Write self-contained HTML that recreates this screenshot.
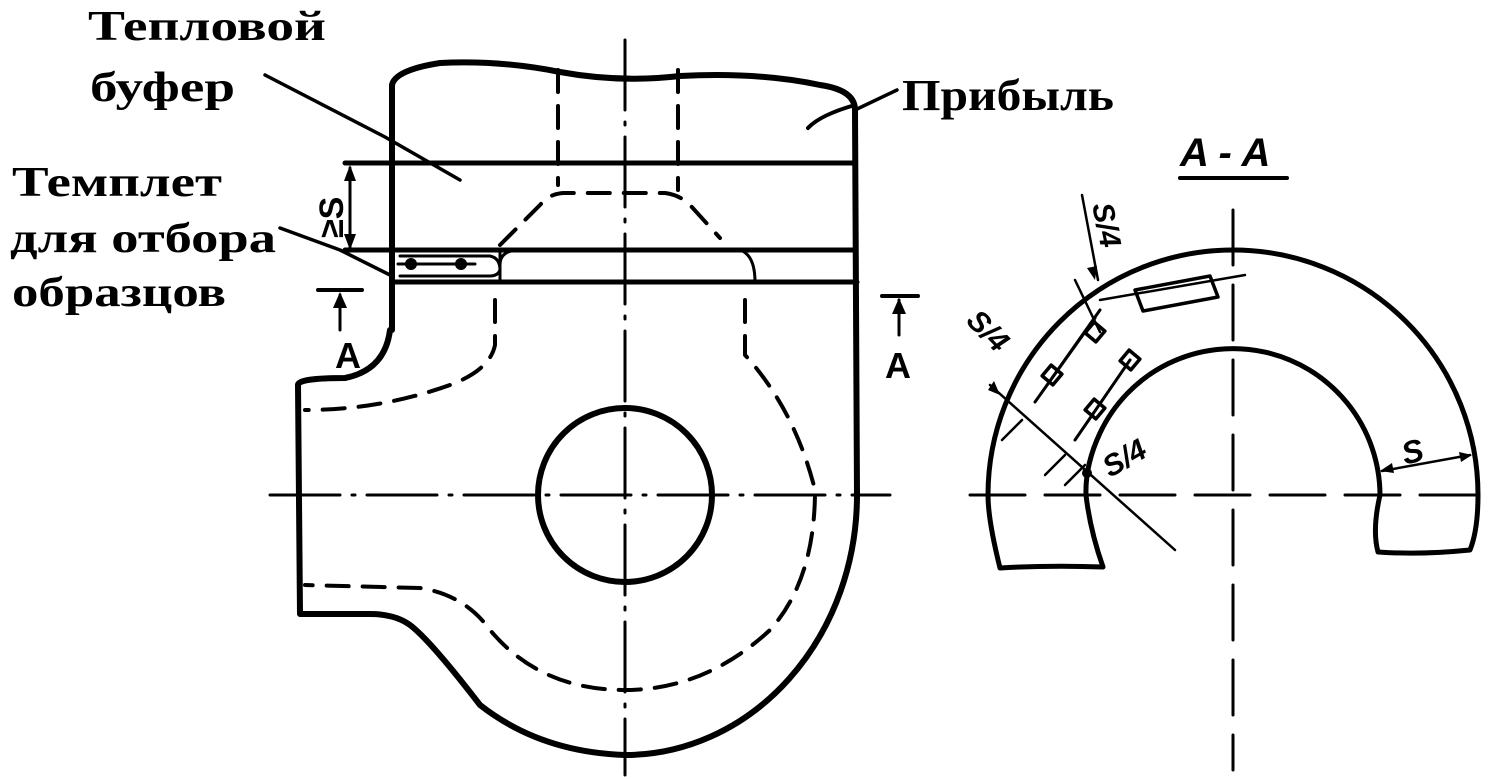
<!DOCTYPE html>
<html><head><meta charset="utf-8"><style>
html,body{margin:0;padding:0;background:#fff}
svg{display:block}
text{font-family:"Liberation Serif",serif;font-weight:bold;fill:#000}
</style></head><body>
<svg width="1490" height="779" viewBox="0 0 1490 779" xmlns="http://www.w3.org/2000/svg">
<g fill="none" stroke="#000" stroke-linecap="round" stroke-linejoin="round">
<path d="M392,330 L392,85 Q395,70 440,63 Q500,60 560,72 Q620,83 680,76 Q760,72 820,85 Q855,90 855,110 L857,495 A232,260 0 0 1 625,755 Q540,752 480,705 Q430,640 410,625 Q395,614 370,614 L300,614 L298,385 Q298,378 345,378 Q385,370 390,330" stroke-width="6"/>
<line x1="345" y1="163" x2="855" y2="163" stroke-width="5"/>
<line x1="345" y1="250" x2="855" y2="250" stroke-width="5"/>
<line x1="395" y1="282" x2="857" y2="282" stroke-width="5"/>
<path d="M500,250 L500,282 M500,265 Q500,250 520,250 L740,250 Q755,255 755,282" stroke-width="3"/>
<path d="M400,256 L490,256 Q500,258 500,270 Q498,276 490,276 L400,276" stroke-width="3"/>
<circle cx="411" cy="264" r="6" fill="#000" stroke="none"/>
<circle cx="461" cy="264" r="6" fill="#000" stroke="none"/>
<line x1="398" y1="264" x2="475" y2="264" stroke-width="3"/>
<path d="M265,75 L385,137 L460,180" stroke-width="3.5"/>
<path d="M280,228 L340,250 L392,276" stroke-width="3.5"/>
<path d="M855,110 L897,90" stroke-width="3.5"/>
<path d="M808,128 Q820,115 855,105" stroke-width="4"/>
<line x1="350" y1="168" x2="350" y2="248" stroke-width="3"/>
<path d="M350,165 l-6,16 l12,0 z M350,250 l-6,-16 l12,0 z" fill="#000" stroke="none"/>
<line x1="318" y1="290" x2="362" y2="290" stroke-width="4"/>
<line x1="340" y1="295" x2="340" y2="330" stroke-width="3"/>
<path d="M340,292 l-7,16 l14,0 z" fill="#000" stroke="none"/>
<line x1="882" y1="296" x2="918" y2="296" stroke-width="4"/>
<line x1="899" y1="300" x2="899" y2="335" stroke-width="3"/>
<path d="M899,298 l-7,16 l14,0 z" fill="#000" stroke="none"/>
<g stroke-width="4" stroke-dasharray="22,14">
<path d="M558,70 L558,185"/>
<path d="M678,70 L678,190"/>
<path d="M500,245 L540,205 Q550,193 565,193 L665,193 Q680,195 690,205 L720,238"/>
<path d="M495,300 L495,345 Q490,370 450,385 Q380,410 305,410"/>
<path d="M745,300 L745,355 Q795,410 815,490 Q815,580 770,630 Q705,690 625,690 Q540,690 490,630 Q465,595 420,588 L305,585"/>
</g>
<circle cx="625" cy="495" r="87" stroke-width="6"/>
<g stroke-width="3" stroke-dasharray="70,12,3,12">
<line x1="625" y1="40" x2="625" y2="775"/>
<line x1="270" y1="495" x2="890" y2="495"/>
</g>
<line x1="1180" y1="178" x2="1287" y2="178" stroke-width="4"/>
<path d="M1000,568 Q988,520 988,495 A245,245 0 0 1 1478,495 Q1478,530 1470,550 Q1420,555 1378,552 Q1372,530 1380,495 A147,147 0 0 0 1100,433 Q1085,465 1086,495 Q1090,530 1103,567 Q1050,565 1000,568 Z" stroke-width="5"/>
<g stroke-width="3" stroke-dasharray="55,20">
<line x1="1233" y1="210" x2="1233" y2="770"/>
<line x1="970" y1="495" x2="1495" y2="495"/>
</g>
<path d="M1135,290 L1210,276 L1218,297 L1143,311 Z" stroke-width="3.5"/>
<line x1="1100" y1="300" x2="1245" y2="275" stroke-width="2.5"/>
<line x1="1075" y1="280" x2="1100" y2="332" stroke-width="2.5"/>
<path d="M1100,310 L1040,395 M1095,318 L1035,402" stroke-width="3"/>
<rect x="1088" y="325" width="14" height="14" transform="rotate(40 1095 332)" stroke-width="3.5"/>
<rect x="1045" y="368" width="14" height="14" transform="rotate(40 1052 375)" stroke-width="3.5"/>
<path d="M1130,360 L1075,440" stroke-width="3"/>
<rect x="1123" y="353" width="14" height="14" transform="rotate(40 1130 360)" stroke-width="3.5"/>
<rect x="1088" y="402" width="14" height="14" transform="rotate(40 1095 409)" stroke-width="3.5"/>
<line x1="990" y1="385" x2="1175" y2="550" stroke-width="2.5"/>
<line x1="1082" y1="195" x2="1098" y2="280" stroke-width="2.5"/>
<line x1="1022" y1="420" x2="1002" y2="440" stroke-width="2.5"/>
<line x1="1065" y1="455" x2="1045" y2="475" stroke-width="2.5"/>
<line x1="1085" y1="465" x2="1065" y2="485" stroke-width="2.5"/>
<line x1="1382" y1="471" x2="1470" y2="455" stroke-width="2.5"/>
<path d="M1095,280 l-8,-12 l10,-2 z M1000,395 l-12,-5 l6,-9 z M1380,471 l12,-8 l2,10 z M1472,455 l-13,-3 l2,10 z" fill="#000" stroke="none"/>
<circle cx="1087" cy="473" r="5" fill="#000" stroke="none"/>
</g>
<text x="88" y="40" font-size="42" textLength="238" lengthAdjust="spacingAndGlyphs">Тепловой</text>
<text x="90" y="101" font-size="42" textLength="145" lengthAdjust="spacingAndGlyphs">буфер</text>
<text x="12" y="196" font-size="42" textLength="210" lengthAdjust="spacingAndGlyphs">Темплет</text>
<text x="10" y="252" font-size="42" textLength="266" lengthAdjust="spacingAndGlyphs">для отбора</text>
<text x="12" y="306" font-size="42" textLength="214" lengthAdjust="spacingAndGlyphs">образцов</text>
<text x="902" y="110" font-size="44" font-weight="normal" textLength="212" lengthAdjust="spacingAndGlyphs">Прибыль</text>
<text x="1180" y="166" font-size="40" font-style="italic" style="font-family:'Liberation Sans',sans-serif" font-weight="normal">A - A</text>
<text x="335" y="368" font-size="36" style="font-family:'Liberation Sans',sans-serif" font-weight="normal">A</text>
<text x="885" y="378" font-size="36" style="font-family:'Liberation Sans',sans-serif" font-weight="normal">A</text>
<text x="0" y="0" font-size="34" style="font-family:'Liberation Sans',sans-serif" font-weight="normal" transform="translate(343,238) rotate(-90)">≥S</text>
<text x="0" y="0" font-size="30" font-style="italic" style="font-family:'Liberation Sans',sans-serif" font-weight="normal" transform="translate(1092,205) rotate(78)">S/4</text>
<text x="0" y="0" font-size="30" font-style="italic" style="font-family:'Liberation Sans',sans-serif" font-weight="normal" transform="translate(965,322) rotate(45)">S/4</text>
<text x="0" y="0" font-size="30" font-style="italic" style="font-family:'Liberation Sans',sans-serif" font-weight="normal" transform="translate(1110,478) rotate(-30)">S/4</text>
<text x="0" y="0" font-size="32" font-style="italic" style="font-family:'Liberation Sans',sans-serif" font-weight="normal" transform="translate(1405,465) rotate(-15)">S</text>
</svg>
</body></html>
